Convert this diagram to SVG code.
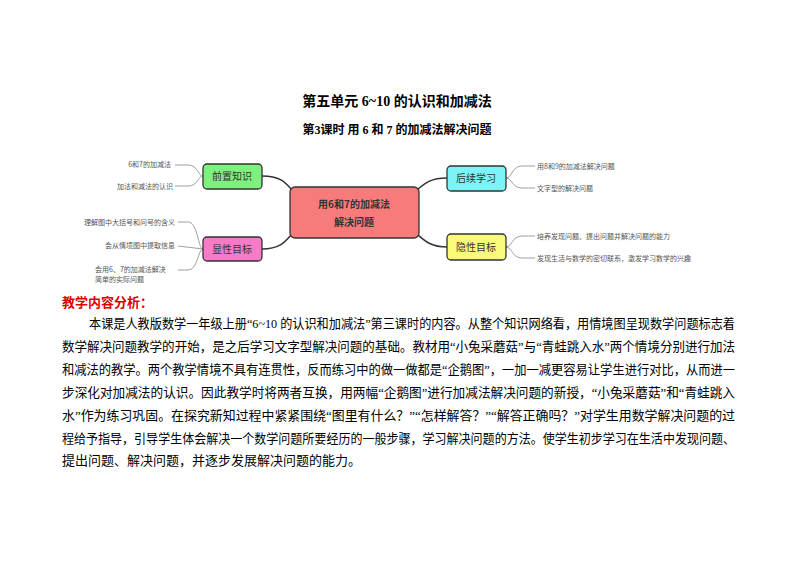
<svg xmlns="http://www.w3.org/2000/svg" width="794" height="561" viewBox="0 0 794 561">
<style>
.t{font-family:"Liberation Serif","Noto Sans CJK SC",serif;fill:#000}
.h{font-weight:bold;text-anchor:middle}
.p{font-size:13px}
.lf{font-family:"Noto Sans CJK SC",sans-serif;font-size:7px;fill:#555}
.bx{stroke:#333;stroke-width:1.3}
.bt{font-family:"Noto Sans CJK SC",sans-serif;font-size:10px;fill:#333;text-anchor:middle}
.c{fill:none;stroke:#333;stroke-width:1.5}
.l{fill:none;stroke:#777;stroke-width:0.7}
</style>
<rect width="794" height="561" fill="#fff"/>
<text class="t h" x="397" y="106" font-size="14">第五单元  6~10 的认识和加减法</text>
<text class="t h" x="397" y="134" font-size="12">第3课时  用 6 和 7 的加减法解决问题</text>
<g id="connectors">
<path class="c" d="M262,176 C280,176 285,182 292,190"/>
<path class="c" d="M262,249 C280,249 285,242 292,234"/>
<path class="c" d="M447,178 C430,178 424,184 417,190"/>
<path class="c" d="M447,247 C430,247 424,240 417,234"/>
<path class="l" d="M175,165 L188,165 C198,165 198,176 203,176 M175,186 L188,186 C198,186 198,176 203,176"/>
<path class="l" d="M178,222 L188,222 C198,222 198,249 203,249 M178,246 L203,249 M178,270 L188,270 C198,270 198,249 203,249"/>
<path class="l" d="M535,166 L522,166 C512,166 512,178 506,178 M535,188 L522,188 C512,188 512,178 506,178"/>
<path class="l" d="M535,236 L522,236 C512,236 512,247 506,247 M535,258 L522,258 C512,258 512,247 506,247"/>
</g>
<g id="center"><rect class="bx" x="290" y="187" width="129" height="51" rx="5" fill="#f77b7b" stroke-width="1.6"/>
<text class="bt" x="354" y="208" font-size="13" font-weight="bold">用6和7的加减法</text>
<text class="bt" x="354" y="226" font-size="13" font-weight="bold">解决问题</text></g>
<g id="n1"><rect class="bx" x="203" y="164" width="59" height="25" rx="4" fill="#7ef07e"/><text class="bt" x="232" y="180">前置知识</text></g>
<g id="n2"><rect class="bx" x="203" y="237" width="59" height="24" rx="4" fill="#f77bc6"/><text class="bt" x="232" y="253">显性目标</text></g>
<g id="n3"><rect class="bx" x="447" y="166" width="59" height="25" rx="4" fill="#7cf4f7"/><text class="bt" x="476" y="182">后续学习</text></g>
<g id="n4"><rect class="bx" x="447" y="234" width="59" height="26" rx="4" fill="#fafa7a"/><text class="bt" x="476" y="251">隐性目标</text></g>
<g id="leaves">
<text class="lf" x="171" y="167" text-anchor="end">6和7的加减法</text>
<text class="lf" x="173" y="189" text-anchor="end">加法和减法的认识</text>
<text class="lf" x="175" y="225" text-anchor="end">理解图中大括号和问号的含义</text>
<text class="lf" x="175" y="248" text-anchor="end">会从情境图中提取信息</text>
<text class="lf" x="95" y="272">会用6、7的加减法解决</text>
<text class="lf" x="95" y="282">简单的实际问题</text>
<text class="lf" x="537" y="169">用8和9的加减法解决问题</text>
<text class="lf" x="537" y="191">文字型的解决问题</text>
<text class="lf" x="537" y="239">培养发现问题、提出问题并解决问题的能力</text>
<text class="lf" x="537" y="261">发现生活与数学的密切联系，激发学习数学的兴趣</text>
</g>
<text class="t" x="62" y="307" font-size="13" font-weight="bold" fill="#e00000" style="fill:#e00000">教学内容分析：</text>
<g class="t p">
<text x="89" y="328" textLength="646" lengthAdjust="spacingAndGlyphs">本课是人教版数学一年级上册“6~10 的认识和加减法”第三课时的内容。从整个知识网络看，用情境图呈现数学问题标志着</text>
<text x="62" y="351" textLength="673" lengthAdjust="spacingAndGlyphs">数学解决问题教学的开始，是之后学习文字型解决问题的基础。教材用“小兔采蘑菇”与“青蛙跳入水”两个情境分别进行加法</text>
<text x="62" y="374" textLength="673" lengthAdjust="spacingAndGlyphs">和减法的教学。两个教学情境不具有连贯性，反而练习中的做一做都是“企鹅图”，一加一减更容易让学生进行对比，从而进一</text>
<text x="62" y="397" textLength="673" lengthAdjust="spacingAndGlyphs">步深化对加减法的认识。因此教学时将两者互换，用两幅“企鹅图”进行加减法解决问题的新授，“小兔采蘑菇”和“青蛙跳入</text>
<text x="62" y="420" textLength="673" lengthAdjust="spacingAndGlyphs">水”作为练习巩固。在探究新知过程中紧紧围绕“图里有什么？”“怎样解答？”“解答正确吗？”对学生用数学解决问题的过</text>
<text x="62" y="443" textLength="673" lengthAdjust="spacingAndGlyphs">程给予指导，引导学生体会解决一个数学问题所要经历的一般步骤，学习解决问题的方法。使学生初步学习在生活中发现问题、</text>
<text x="62" y="465">提出问题、解决问题，并逐步发展解决问题的能力。</text>
</g>
</svg>
